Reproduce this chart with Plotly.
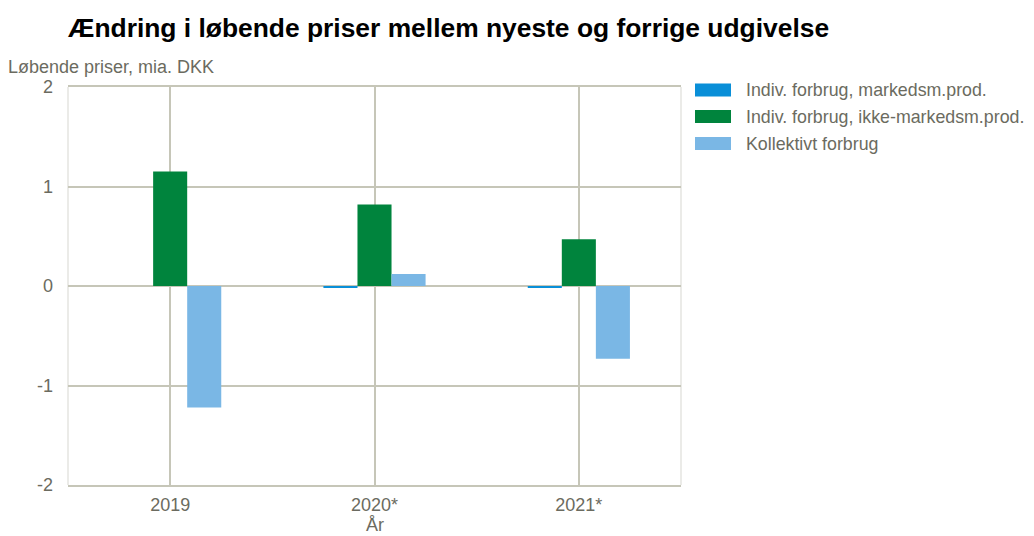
import plotly.graph_objects as go

categories = ["2019", "2020*", "2021*"]
series_names = ["Indiv. forbrug, markedsm.prod.", "Indiv. forbrug, ikke-markedsm.prod.", "Kollektivt forbrug"]
markedsm = [0.0, -0.02, -0.02]
ikke_markedsm = [1.15, 0.82, 0.47]
kollektivt = [-1.22, 0.12, -0.73]
colors = ["#0a8fd8", "#00843d", "#7ab7e5"]
y_ticks = [-2, -1, 0, 1, 2]
y_ticktext = ["-2", "-1", "0", "1", "2"]
x_title = "År"

grid_col = "#c6c6b8"
txt_col = "#6b6b60"
font = "Liberation Sans, Arial, sans-serif"

# page offset (body margin 8px) compensation
OFF = 8
PL, PR, PT, PB = 68, 681, 87, 485
W, H = 1034 - OFF, 536 - OFF


def px_x(x):
    return (x - PL) / (PR - PL)


def px_y(y):
    return (PB - y) / (PB - PT)


fig = go.Figure()
for name, vals, col in zip(series_names, [markedsm, ikke_markedsm, kollektivt], colors):
    fig.add_trace(go.Bar(x=categories, y=vals, name=name, showlegend=False,
                         marker=dict(color=col, line=dict(width=0))))

annotations = [
    dict(text="<b>Ændring i løbende priser mellem nyeste og forrige udgivelse</b>",
         xref="paper", yref="paper", x=px_x(66), y=px_y(28), xanchor="left", yanchor="middle",
         showarrow=False, font=dict(size=26.4, color="black", family=font)),
    dict(text="Løbende priser, mia. DKK", xref="paper", yref="paper",
         x=px_x(6), y=px_y(67), xanchor="left", yanchor="middle", showarrow=False,
         font=dict(size=18, color=txt_col, family=font)),
    dict(text=x_title, xref="paper", yref="paper", x=0.5, y=px_y(537),
         xanchor="center", yanchor="bottom", showarrow=False,
         font=dict(size=18, color=txt_col, family=font)),
]
shapes = [
    dict(type="line", xref="paper", yref="paper", x0=0, x1=0, y0=0, y1=1,
         line=dict(color="#e4e4e0", width=1.5), layer="below"),
    dict(type="line", xref="paper", yref="paper", x0=1, x1=1, y0=0, y1=1,
         line=dict(color="#e4e4e0", width=1.5), layer="below"),
]
# custom legend
leg_centers = [90, 116.5, 143.5]
for name, col, cy in zip(series_names, colors, leg_centers):
    shapes.append(dict(type="rect", xref="paper", yref="paper",
                       x0=px_x(695), x1=px_x(731), y0=px_y(cy - 6.5), y1=px_y(cy + 6.5),
                       fillcolor=col, line=dict(width=0)))
    annotations.append(dict(text=name, xref="paper", yref="paper", x=px_x(744), y=px_y(cy),
                            xanchor="left", yanchor="middle", showarrow=False,
                            font=dict(size=17.8, color=txt_col, family=font)))

fig.update_layout(
    width=W, height=H,
    margin=dict(l=PL - OFF, r=W - (PR - OFF), t=PT - OFF, b=H - (PB - OFF), pad=0),
    paper_bgcolor="white", plot_bgcolor="white",
    barmode="group", bargap=0.5, bargroupgap=0,
    font=dict(family=font, size=18, color=txt_col),
    showlegend=False,
    xaxis=dict(showgrid=True, gridcolor=grid_col, gridwidth=2,
               showline=True, linecolor=grid_col, linewidth=2, mirror=True,
               ticks="", tickfont=dict(size=18, color=txt_col), zeroline=False,
               ticklabelstandoff=2, automargin=False,
               range=[-0.5, 2.5]),
    yaxis=dict(range=[-2, 2], tickvals=y_ticks, ticktext=y_ticktext, showgrid=True,
               gridcolor=grid_col, gridwidth=2, automargin=False,
               zeroline=True, zerolinecolor=grid_col, zerolinewidth=2, showline=False,
               tickfont=dict(size=18, color=txt_col), ticks="", ticklabelstandoff=14),
    annotations=annotations,
    shapes=shapes,
)

fig.write_html("out.html")
